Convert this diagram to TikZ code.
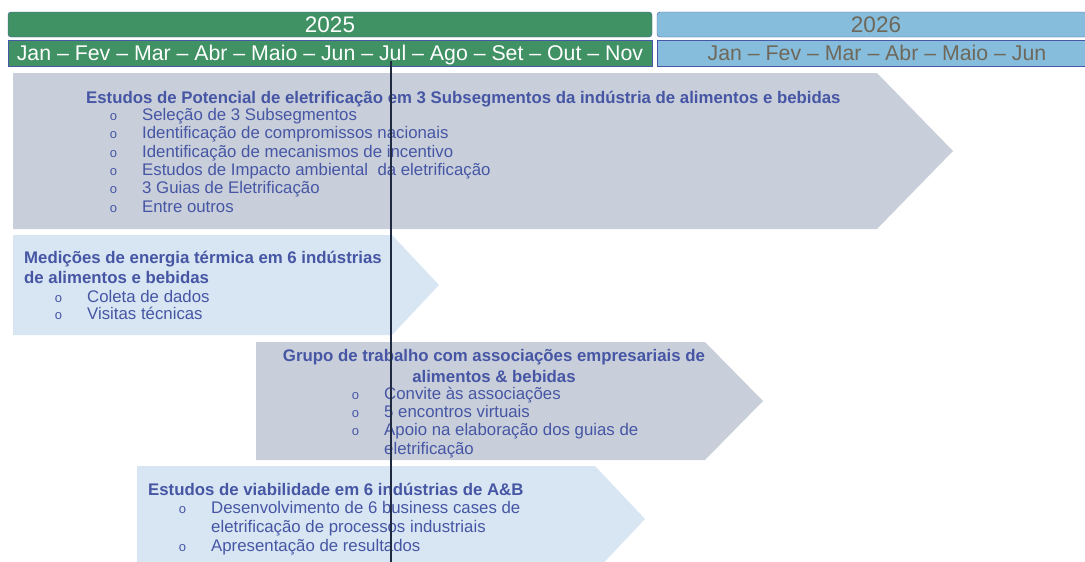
\documentclass[tikz,border=0pt]{standalone}
\usepackage{fontspec}
\setmainfont{Liberation Sans}
\usepackage{tikz}
\usetikzlibrary{calc}
\usetikzlibrary{positioning}
\usepackage{color}
\definecolor{verdeano}{RGB}{64, 145, 100}
\definecolor{azulano}{RGB}{135, 189, 220}
\definecolor{moldura}{RGB}{72, 88, 168}
\definecolor{cinzatexto}{RGB}{110, 104, 90}
\definecolor{cinzaseta}{RGB}{200, 207, 219}
\definecolor{azulseta}{RGB}{215, 230, 242}
\definecolor{textoazul}{RGB}{70, 86, 164}
\definecolor{linhamarco}{RGB}{31, 42, 64}
\newcommand{\bola}{\llap{{\fontsize{13}{13}\selectfont o}\hspace{25pt}}}

\begin{document}
\begin{tikzpicture}[x=1pt, y=-1pt,
        ano/.style   ={inner sep=0pt, anchor=base, font=\fontsize{22.5}{22.5}\selectfont},
        meses/.style ={inner sep=0pt, anchor=base, font=\fontsize{21.3}{21.3}\selectfont},
        titulo/.style={inner sep=0pt, anchor=base west, text=textoazul, font=\bfseries\fontsize{16.8}{16.8}\selectfont},
        item/.style  ={inner sep=0pt, anchor=base west, text=textoazul, font=\fontsize{16.8}{16.8}\selectfont}]
            \useasboundingbox                                                   (0, 0) rectangle (1085, 562);
            % cabecalho
            \filldraw[draw=moldura, fill=verdeano, rounded corners=3pt]          (8, 37) rectangle (652, 12);
            \filldraw[draw=moldura, fill=verdeano]                               (8, 66) rectangle (652, 40);
            \filldraw[draw=moldura, fill=azulano,  rounded corners=3pt]          (657, 37) rectangle (1095, 12);
            \filldraw[draw=moldura, fill=azulano]                                (657, 66) rectangle (1095, 40);
            \node[ano,   text=white]      (ano2025)   at (330, 32.5) {2025};
            \node[meses, text=white]      (meses2025) at (330, 60.5) {Jan – Fev – Mar – Abr – Maio – Jun – Jul – Ago – Set – Out – Nov};
            \node[ano,   text=cinzatexto] (ano2026)   at (876, 32.5) {2026};
            \node[meses, text=cinzatexto] (meses2026) at (877, 60.5) {Jan – Fev – Mar – Abr – Maio – Jun};
            % setas
            \fill[cinzaseta] ( 13, 73) -- (877, 73) -- (953, 151) -- (877, 229) -- ( 13, 229) -- cycle;
            \fill[azulseta]  ( 13, 235) -- (392, 235) -- (439, 285) -- (392, 335) -- ( 13, 335) -- cycle;
            \fill[cinzaseta] (256, 342) -- (705, 342) -- (763, 401) -- (705, 460) -- (256, 460) -- cycle;
            \fill[azulseta]  (137, 466) -- (595, 466) -- (645, 519) -- (595, 572) -- (137, 572) -- cycle;
            % estudos de potencial
            \node[titulo] (potencial)   at ( 86, 103.5) {Estudos de Potencial de eletrificação em 3 Subsegmentos da indústria de alimentos e bebidas};
            \node[item]   (potencial1)  at (142, 120.5) {\bola Seleção de 3 Subsegmentos};
            \node[item]   (potencial2)  at (142, 138.5) {\bola Identificação de compromissos nacionais};
            \node[item]   (potencial3)  at (142, 157.0) {\bola Identificação de mecanismos de incentivo};
            \node[item]   (potencial4)  at (142, 175.5) {\bola Estudos de Impacto ambiental\ \ da eletrificação};
            \node[item]   (potencial5)  at (142, 193.5) {\bola 3 Guias de Eletrificação};
            \node[item]   (potencial6)  at (142, 212.0) {\bola Entre outros};
            % medicoes
            \node[titulo] (medicoes)    at ( 24, 263.5) {Medições de energia térmica em 6 indústrias};
            \node[titulo] (medicoesb)   at ( 24, 283.5) {de alimentos e bebidas};
            \node[item]   (medicoes1)   at ( 87, 302.5) {\bola Coleta de dados};
            \node[item]   (medicoes2)   at ( 87, 319.5) {\bola Visitas técnicas};
            % grupo de trabalho
            \node[titulo, anchor=base] (grupo)  at (494, 361.5) {Grupo de trabalho com associações empresariais de};
            \node[titulo, anchor=base] (grupob) at (494, 382.5) {alimentos \& bebidas};
            \node[item]   (grupo1)      at (384, 399.5) {\bola Convite às associações};
            \node[item]   (grupo2)      at (384, 417.5) {\bola 5 encontros virtuais};
            \node[item]   (grupo3)      at (384, 435.5) {\bola Apoio na elaboração dos guias de};
            \node[item]   (grupo3b)     at (384, 454.5) {eletrificação};
            % viabilidade
            \node[titulo] (viabilidade)  at (148, 495.5) {Estudos de viabilidade em 6 indústrias de A\&B};
            \node[item]   (viabilidade1) at (211, 513.5) {\bola Desenvolvimento de 6 business cases de};
            \node[item]   (viabilidade1b) at (211, 532.5) {eletrificação de processos industriais};
            \node[item]   (viabilidade2) at (211, 551.5) {\bola Apresentação de resultados};
            % marco de julho
            \coordinate (julho)   at (391, 61);
            \coordinate (rodape)  at (391, 562);
            \draw[linhamarco, line width=2pt] (julho) -- (rodape);
        \end{tikzpicture}
\end{document}
